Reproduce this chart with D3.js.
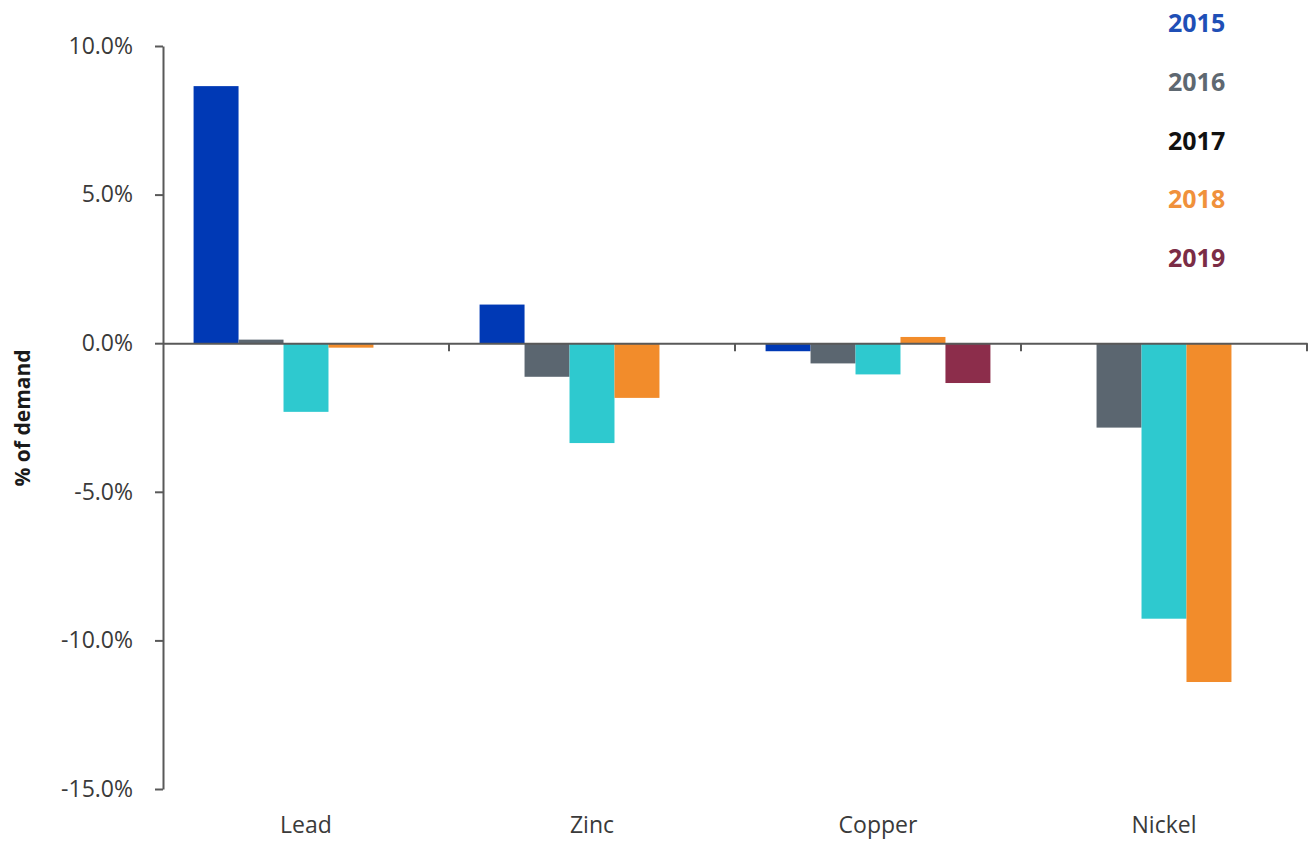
<!DOCTYPE html>
<html>
<head>
<meta charset="utf-8">
<script src="https://cdn.jsdelivr.net/npm/d3@7"></script>
<style>
  html, body { margin: 0; padding: 0; background: #fff; }
  svg { display: block; }
</style>
</head>
<body>
<svg id="chart" width="1312" height="841"></svg>
<script>
// ---- data ----
const categories = ["Lead", "Zinc", "Copper", "Nickel"];
const years = ["2015", "2016", "2017", "2018", "2019"];
// values in % of demand, per year, in category order (null = no bar)
const v2015 = [8.65, 1.30, -0.27, null];
const v2016 = [0.12, -1.13, -0.68, -2.84];
const v2017 = [-2.31, -3.36, -1.05, -9.27];
const v2018 = [-0.15, -1.84, 0.21, -11.40];
const v2019 = [null, null, -1.34, null];
const yTicks = [-15, -10, -5, 0, 5, 10];

const seriesValues = [v2015, v2016, v2017, v2018, v2019];
const barColors = ["#0039b5", "#5b6670", "#2ec9cf", "#f28c2b", "#8c2d4b"];
const legendColors = ["#1f4fb6", "#5e6871", "#111111", "#f0913b", "#7b2c46"];

// ---- layout ----
const svg = d3.select("#chart");
const x0 = 163, x1 = 1307, yTop = 46, yBot = 789;

const x = d3.scaleBand().domain(categories).range([x0, x1]).paddingInner(0).paddingOuter(0);
const xi = d3.scaleBand().domain(years).range([0, x.bandwidth()]).paddingInner(0).paddingOuter(0.68);
const y = d3.scaleLinear().domain([-15, 10]).range([yBot, yTop]);

const rows = [];
categories.forEach((c, ci) => {
  years.forEach((yr, si) => {
    const v = seriesValues[si][ci];
    if (v !== null) rows.push({ c, yr, si, v });
  });
});

// bars
svg.append("g").selectAll("rect").data(rows).join("rect")
  .attr("x", d => x(d.c) + xi(d.yr))
  .attr("width", xi.bandwidth())
  .attr("y", d => y(Math.max(0, d.v)))
  .attr("height", d => Math.abs(y(d.v) - y(0)))
  .attr("fill", d => barColors[d.si]);

// y axis
const fmt = d => (d < 0 ? "-" : "") + Math.abs(d).toFixed(1) + "%";
const yAxis = svg.append("g")
  .attr("transform", `translate(${x0},0)`)
  .call(d3.axisLeft(y).tickValues(yTicks).tickFormat(fmt).tickSize(8).tickSizeOuter(0).tickPadding(22));
yAxis.select(".domain").attr("stroke", "#595959").attr("stroke-width", 2);
yAxis.selectAll(".tick line").attr("stroke", "#595959").attr("stroke-width", 2);
yAxis.selectAll(".tick text")
  .attr("fill", "#3a3a3a")
  .style("font-family", "'Open Sans', 'Liberation Sans', sans-serif")
  .style("font-size", "23px");

// x axis at zero
const xAxis = svg.append("g")
  .attr("transform", `translate(0,${y(0)})`)
  .call(d3.axisBottom(x).tickSize(0).tickSizeOuter(0).tickFormat(""));
xAxis.select(".domain").attr("stroke", "#595959").attr("stroke-width", 2);
xAxis.selectAll(".tick").remove();
const boundaries = categories.map(c => x(c) + x.bandwidth());
xAxis.selectAll("line.bt").data(boundaries).join("line")
  .attr("class", "bt")
  .attr("x1", d => d).attr("x2", d => d)
  .attr("y1", 0).attr("y2", 8)
  .attr("stroke", "#595959").attr("stroke-width", 2);

// category labels
svg.append("g").selectAll("text").data(categories).join("text")
  .attr("x", d => x(d) + x.bandwidth() / 2)
  .attr("y", 833)
  .attr("text-anchor", "middle")
  .attr("fill", "#3a3a3a")
  .style("font-family", "'Open Sans', 'Liberation Sans', sans-serif")
  .style("font-size", "23px")
  .text(d => d);

// y axis title
svg.append("text")
  .attr("transform", "translate(30,418) rotate(-90)")
  .attr("text-anchor", "middle")
  .attr("fill", "#1a1a1a")
  .style("font-family", "'Open Sans', 'Liberation Sans', sans-serif")
  .style("font-size", "21px")
  .style("font-weight", "bold")
  .text("% of demand");

// legend
svg.append("g").selectAll("text").data(years).join("text")
  .attr("x", 1168)
  .attr("y", (d, i) => 32 + i * 58.8)
  .attr("fill", (d, i) => legendColors[i])
  .style("font-family", "'Open Sans', 'Liberation Sans', sans-serif")
  .style("font-size", "25px")
  .style("font-weight", "bold")
  .text(d => d);
</script>
</body>
</html>
